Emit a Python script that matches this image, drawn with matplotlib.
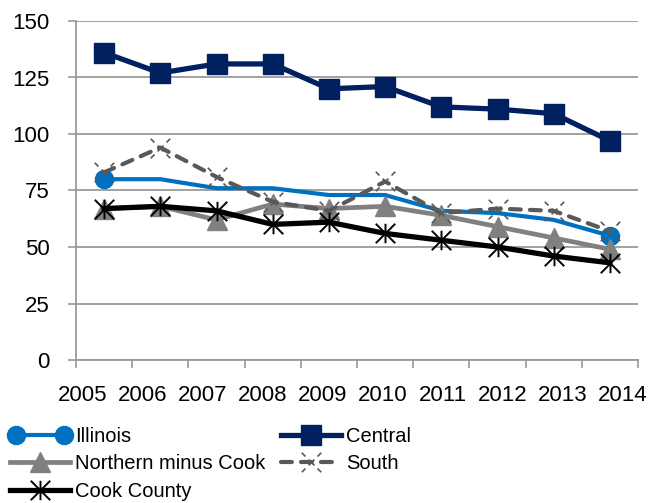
import matplotlib
matplotlib.use("Agg")
import matplotlib.pyplot as plt
from matplotlib.path import Path
from matplotlib.legend_handler import HandlerLine2D
import numpy as np

plt.rcParams['font.family'] = ['Liberation Sans', 'DejaVu Sans']

years = ["2005", "2006", "2007", "2008", "2009", "2010", "2011", "2012", "2013", "2014"]
illinois = [80, 80, 76, 76, 73, 73, 66, 65, 62, 55]
central = [136, 127, 131, 131, 120, 121, 112, 111, 109, 97]
northern = [67, 68, 62, 69, 67, 68, 64, 59, 54, 49]
south = [83, 94, 81, 70, 66, 79, 65, 67, 66, 57]
cook = [67, 68, 66, 60, 61, 56, 53, 50, 46, 43]
y_ticks = [0, 25, 50, 75, 100, 125, 150]

# six-armed star marker (vertical stroke plus an X)
M, L = Path.MOVETO, Path.LINETO
star = Path([(0, -1), (0, 1), (-1, -1), (1, 1), (-1, 1), (1, -1)],
            [M, L, M, L, M, L])

# X marker drawn with broken strokes
segs = []
codes = []
for (sx, sy) in [(1, 1), (1, -1)]:
    for a, b in [(-1.0, -0.62), (-0.3, 0.3), (0.62, 1.0)]:
        segs += [(a * sx, a * sy), (b * sx, b * sy)]
        codes += [M, L]
dashed_x = Path(segs, codes)

fig = plt.figure(figsize=(6.51, 5.03), dpi=100)
ax = fig.add_axes([76 / 651, 1 - 360 / 503, (638 - 76) / 651, (360 - 21) / 503])

x = np.arange(len(years))
grid_c = '#9a9a9a'

l_ill, = ax.plot(x, illinois, color='#0070C0', lw=3.0, marker='o', markersize=13,
                 markevery=[0, len(x) - 1], solid_capstyle='round', label='Illinois', zorder=3)
l_cen, = ax.plot(x, central, color='#002060', lw=3.8, marker='s', markersize=14,
                 label='Central', zorder=4)
l_nor, = ax.plot(x, northern, color='#808080', lw=3.4, marker='^', markersize=14,
                 label='Northern minus Cook', zorder=5)
l_sou, = ax.plot(x, south, color='#595959', lw=3.0, linestyle=(0, (2.6, 2.2)),
                 dash_capstyle='round', marker=dashed_x, markersize=14,
                 markeredgewidth=1.2, markeredgecolor='#595959',
                 label='South', zorder=6)
l_cok, = ax.plot(x, cook, color='#000000', lw=3.8, marker=star, markersize=14,
                 markeredgewidth=1.4, label='Cook County', zorder=7)

ax.set_xlim(-0.5, len(years) - 0.5)
ax.set_ylim(0, 150)
ax.set_yticks(y_ticks)
ax.set_yticklabels([str(v) for v in y_ticks])

# category boundaries carry the tick marks; labels sit on their own minor ticks
ax.set_xticks(np.arange(len(years) + 1) - 0.5)
ax.set_xticklabels([])
label_pos = -0.383 + 1.0676 * x
ax.set_xticks(label_pos, minor=True)
ax.set_xticklabels(years, minor=True)

ax.tick_params(axis='x', which='major', length=6, width=1.2, color=grid_c, direction='out')
ax.tick_params(axis='x', which='minor', length=0, pad=18, labelsize=16)
ax.tick_params(axis='y', length=6, width=1.2, color=grid_c, pad=13, labelsize=16)

ax.grid(axis='y', color=grid_c, lw=1.3)
ax.set_axisbelow(True)
for s in ['top', 'right']:
    ax.spines[s].set_visible(False)
for s in ['left', 'bottom']:
    ax.spines[s].set_color(grid_c)
    ax.spines[s].set_linewidth(1.3)

handles = [l_ill, l_nor, l_cok, l_cen, l_sou]
labels = [h.get_label() for h in handles]
fig.legend(handles, labels, loc='upper left', bbox_to_anchor=(10 / 651, 1 - 427 / 503),
           ncol=2, frameon=False, fontsize=14.5, handlelength=3.0, handletextpad=0.25,
           columnspacing=0.75, labelspacing=0.42, borderpad=0, borderaxespad=0,
           numpoints=1, handler_map={l_ill: HandlerLine2D(numpoints=2)})

fig.savefig('out.png', dpi=100)
